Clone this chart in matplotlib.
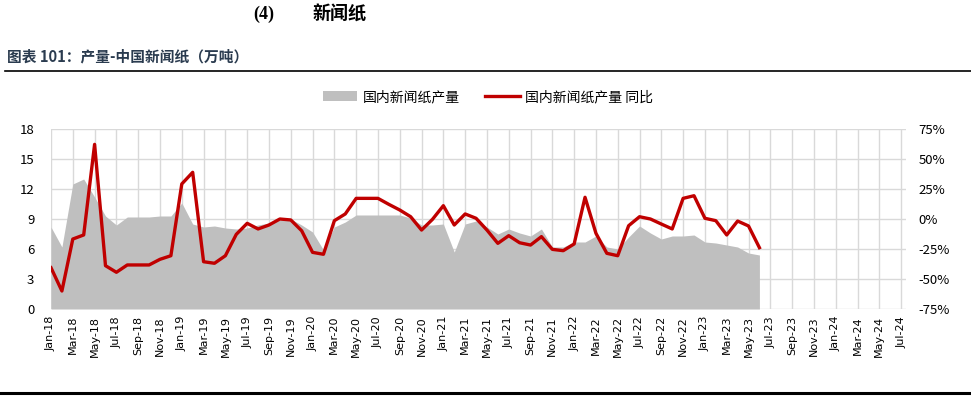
import matplotlib
matplotlib.use('Agg')
import matplotlib.pyplot as plt
import matplotlib.patches as mpatches
from matplotlib.lines import Line2D
import numpy as np
import pandas as pd

plt.rcParams['font.family'] = ['Noto Sans CJK SC', 'DejaVu Sans']
plt.rcParams['axes.unicode_minus'] = False

# 数据：2018-01 ~ 2023-06 月度
months = pd.date_range('2018-01-01', periods=66, freq='MS')
prod = [8.2, 6.2, 12.5, 13.0, 11.2, 9.3, 8.4, 9.2, 9.2, 9.2, 9.3, 9.3,
        10.6, 8.5, 8.2, 8.3, 8.1, 8.0, 8.1, 8.4, 8.6, 8.9, 9.0, 8.4,
        7.7, 5.9, 8.2, 8.7, 9.4, 9.4, 9.4, 9.4, 9.4, 9.1, 8.4, 8.4,
        8.5, 5.7, 8.5, 8.8, 8.2, 7.5, 8.0, 7.6, 7.3, 8.0, 6.2, 6.2,
        6.7, 6.7, 7.3, 6.2, 6.0, 7.2, 8.3, 7.6, 7.0, 7.3, 7.3, 7.4,
        6.7, 6.6, 6.4, 6.2, 5.6, 5.4]
yoy = [-40.6, -60.0, -16.7, -13.3, 62.2, -38.9, -44.4, -38.3, -38.3, -38.3, -33.6, -30.6,
       29.2, 38.9, -35.6, -36.9, -30.6, -12.8, -3.6, -8.3, -5.0, 0.0, -0.8, -9.8,
       -27.8, -29.4, -1.4, 4.2, 17.2, 17.2, 17.2, 12.2, 7.5, 1.9, -9.2, -0.3,
       11.1, -5.0, 4.2, 0.6, -9.2, -20.3, -13.9, -19.8, -21.7, -14.7, -25.3, -26.4,
       -20.8, 18.1, -11.9, -28.6, -30.6, -5.6, 1.9, 0.0, -4.2, -8.3, 17.2, 19.4,
       0.6, -1.4, -13.3, -1.7, -5.8, -23.9]
tick_months = pd.date_range('2018-01-01', '2024-07-01', freq='2MS')
tick_labels = [d.strftime('%b-%y') for d in tick_months]
left_ticks = [0, 3, 6, 9, 12, 15, 18]
right_ticks = [-75, -50, -25, 0, 25, 50, 75]

W, H = 971, 398
fig = plt.figure(figsize=(W / 100, H / 100), dpi=100)

x = np.arange(len(months))
tick_x = np.arange(len(tick_months)) * 2

ax = fig.add_axes([51 / W, 1 - 309 / H, (906 - 51) / W, 180 / H])
ax.fill_between(x, 0, prod, color='#bfbfbf', lw=0, zorder=2)
ax.set_xlim(0, 78.45)
ax.set_ylim(0, 18)
ax.set_yticks(left_ticks)
ax.set_xticks(tick_x)
ax.set_xticklabels(tick_labels, rotation=90, fontsize=8, family='DejaVu Sans')
ax.tick_params(axis='y', labelsize=9.5, length=0, pad=12)
ax.tick_params(axis='x', length=0, pad=5)
ax.grid(True, color='#d9d9d9', lw=1)
ax.set_axisbelow(True)
for s in ax.spines.values():
    s.set_visible(False)

ax2 = ax.twinx()
ax2.plot(x, yoy, color='#c00000', lw=2.4, zorder=3)
ax2.set_ylim(-75, 75)
ax2.set_yticks(right_ticks)
ax2.set_yticklabels([f'{v}%' for v in right_ticks])
ax2.tick_params(axis='y', labelsize=9.5, length=0, pad=9)
for s in ax2.spines.values():
    s.set_visible(False)

# 图例
handles = [mpatches.Patch(color='#bfbfbf', lw=0),
           Line2D([0], [0], color='#c00000', lw=2.4)]
fig.legend(handles, ['国内新闻纸产量', '国内新闻纸产量 同比'], loc='center',
           bbox_to_anchor=(488 / W, 1 - 97 / H), ncol=2, frameon=False,
           fontsize=10, handlelength=2.5, handletextpad=0.4, columnspacing=1.8)

# 标题
fig.text(264 / W, 1 - 14 / H, '(4)', ha='center', va='center', fontsize=13,
         fontweight='bold', family='Liberation Serif')
fig.text(340 / W, 1 - 14 / H, '新闻纸', ha='center', va='center', fontsize=13,
         fontweight='bold')
fig.text(7 / W, 1 - 56 / H, '图表 101：产量-中国新闻纸（万吨）', ha='left', va='center',
         fontsize=10.6, fontweight='bold', color='#2a3b4f')
fig.add_artist(Line2D([5 / W, 1], [1 - 71 / H] * 2, color='black', lw=1.2))
fig.add_artist(Line2D([0, 1], [1 - 393 / H] * 2, color='black', lw=2.2))

fig.savefig('out.png', dpi=100)
